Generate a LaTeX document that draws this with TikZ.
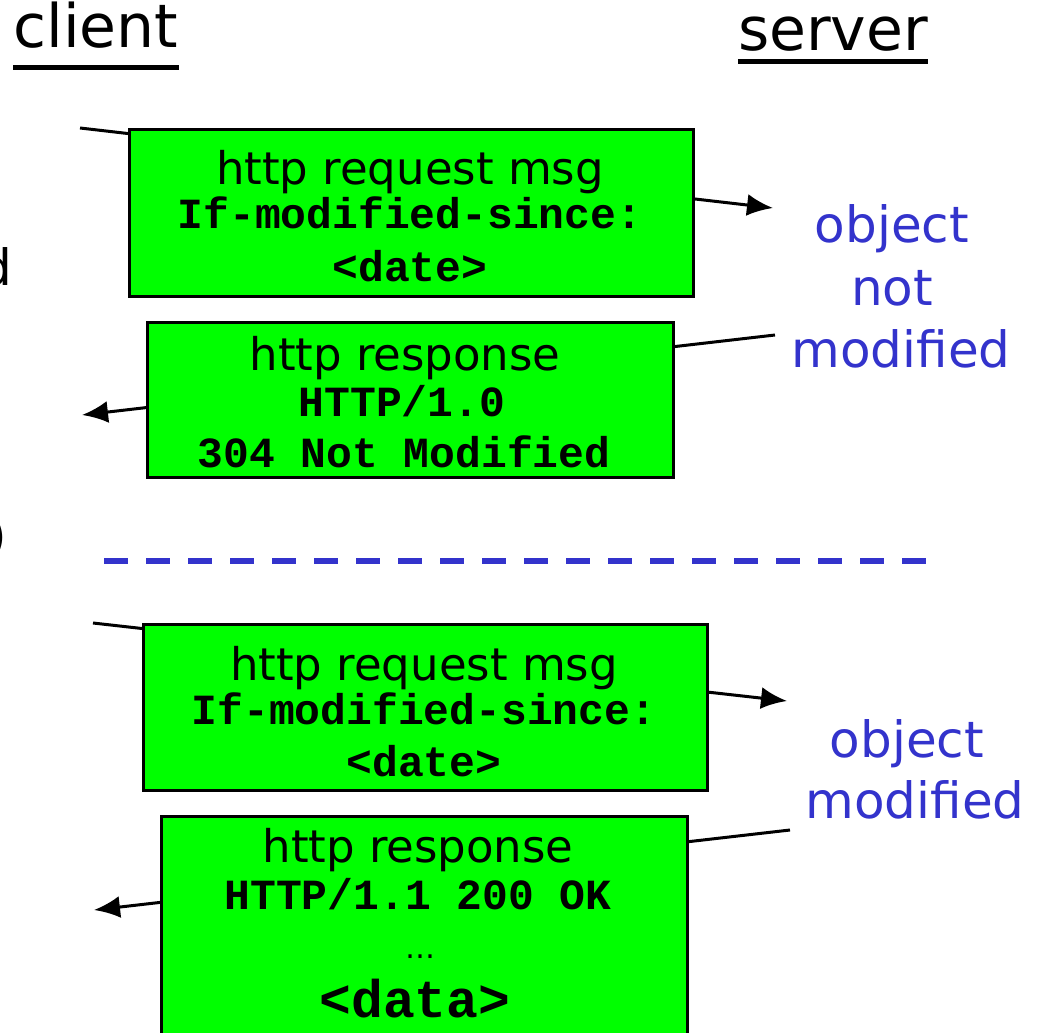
\documentclass[tikz,border=0pt]{standalone}
\usepackage{fontspec}
\setmainfont{DejaVu Sans}
\setmonofont{Liberation Mono}
\usetikzlibrary{arrows.meta}
\definecolor{msggreen}{RGB}{0,255,0}
\definecolor{noteblue}{RGB}{51,51,204}
\tikzset{
  msgbox/.style={draw,line width=2.6pt,fill=msggreen,anchor=north west,inner sep=0pt},
  msgline/.style={line width=3pt,-{Latex[length=26pt,width=22pt]}},
  headtxt/.style={inner sep=0pt,anchor=base,font=\fontsize{60}{70}\selectfont},
  boxtxt/.style={inner sep=0pt,anchor=base,font=\fontsize{45}{54}\selectfont},
  codetxt/.style={inner sep=0pt,anchor=base,font=\ttfamily\bfseries\fontsize{43}{50}\selectfont},
  notetxt/.style={inner sep=0pt,anchor=base,text=noteblue,font=\fontsize{50}{62}\selectfont},
  uline/.style={line width=5pt},
}
\begin{document}
\begin{tikzpicture}[x=1pt,y=-1pt]
  \useasboundingbox (0,0) rectangle (1040,1032);
  \node[headtxt] (client) at (96,48) {client};
  \node[headtxt] (server) at (833,51) {server};
  \draw[uline] ([yshift=-20pt]client.base west) -- ([yshift=-20pt]client.base east);
  \draw[uline] ([yshift=-11pt]server.base west) -- ([yshift=-11pt]server.base east);
  \node[notetxt,text=black,anchor=base east] (cutd) at (12,285) {d};
  \node[notetxt,text=black,anchor=base east] (cutp) at (7,553) {)};
  % first exchange
  \coordinate (req1s) at (80,128);
  \coordinate (req1e) at (773,208);
  \draw[msgline] (req1s) -- (req1e);
  \node[msgbox,minimum width=564pt,minimum height=167pt] (req1) at (128,128) {};
  \node[boxtxt] (req1a) at (410,185) {http request msg};
  \node[codetxt] (req1b) at (410,229) {If-modified-since:};
  \node[codetxt] (req1c) at (410,281) {<date>};
  \coordinate (rsp1s) at (775,335);
  \coordinate (rsp1e) at (82,415);
  \draw[msgline] (rsp1s) -- (rsp1e);
  \node[msgbox,minimum width=526pt,minimum height=155pt] (rsp1) at (146,321) {};
  \node[boxtxt] (rsp1a) at (405,370) {http response};
  \node[codetxt] (rsp1b) at (402,416) {HTTP/1.0};
  \node[codetxt] (rsp1c) at (404,467) {304 Not Modified};
  \node[notetxt] (nm1) at (892,243) {object};
  \node[notetxt] (nm2) at (892,305) {not};
  \node[notetxt] (nm3) at (901,367) {modified};
  \coordinate (sepl) at (104,561);
  \coordinate (sepr) at (926,561);
  \draw[noteblue,line width=6pt,dash pattern=on 24pt off 18pt] (sepl) -- (sepr);
  % second exchange
  \coordinate (req2s) at (93,623);
  \coordinate (req2e) at (787,701);
  \draw[msgline] (req2s) -- (req2e);
  \node[msgbox,minimum width=564pt,minimum height=166pt] (req2) at (142,623) {};
  \node[boxtxt] (req2a) at (424,680) {http request msg};
  \node[codetxt] (req2b) at (424,724) {If-modified-since:};
  \node[codetxt] (req2c) at (424,776) {<date>};
  \coordinate (rsp2s) at (790,830);
  \coordinate (rsp2e) at (94,910);
  \draw[msgline] (rsp2s) -- (rsp2e);
  \node[msgbox,minimum width=526pt,minimum height=240pt] (rsp2) at (160,815) {};
  \node[boxtxt] (rsp2a) at (418,862) {http response};
  \node[codetxt] (rsp2b) at (418,909) {HTTP/1.1 200 OK};
  \node[boxtxt,font=\fontsize{30}{36}\selectfont] (rsp2c) at (420,958) {…};
  \node[codetxt,font=\ttfamily\bfseries\fontsize{53}{60}\selectfont] (rsp2d) at (415,1017) {<data>};
  \node[notetxt] (md1) at (907,757) {object};
  \node[notetxt] (md2) at (915,818) {modified};
\end{tikzpicture}
\end{document}
